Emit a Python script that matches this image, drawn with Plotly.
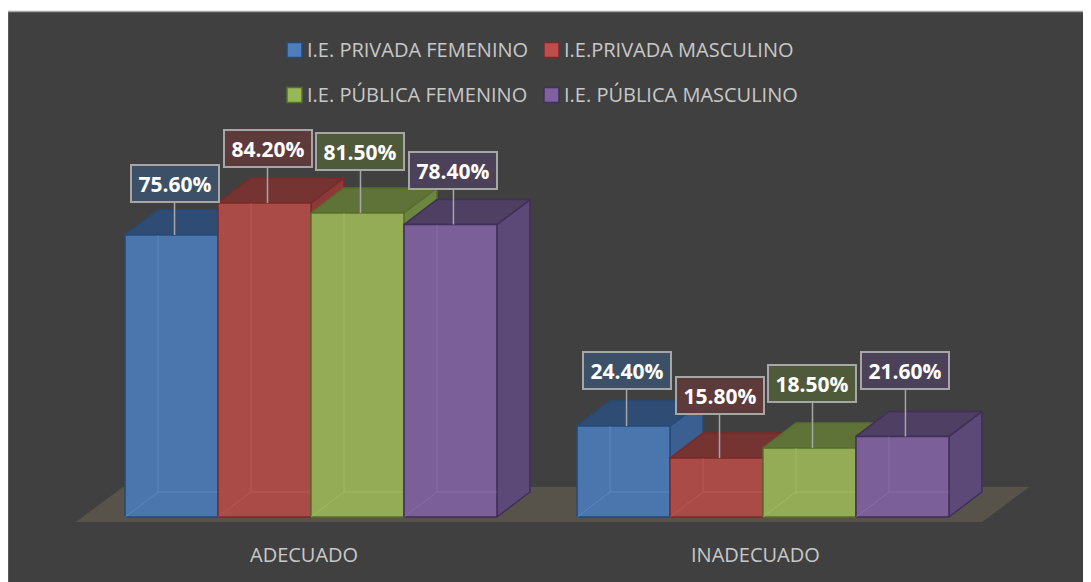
import plotly.graph_objects as go

# ---------------- data ----------------
categories = ["ADECUADO", "INADECUADO"]
series_names = ["I.E. PRIVADA FEMENINO", "I.E.PRIVADA MASCULINO",
                "I.E. PÚBLICA FEMENINO", "I.E. PÚBLICA MASCULINO"]
privada_femenino = [75.6, 24.4]
privada_masculino = [84.2, 15.8]
publica_femenino = [81.5, 18.5]
publica_masculino = [78.4, 21.6]
series_values = [privada_femenino, privada_masculino, publica_femenino, publica_masculino]

# ---------------- styles ----------------
front_colors = ["#4a76ad", "#ab4b48", "#93ac55", "#7a5f99"]
top_colors = ["#2f4d74", "#753332", "#5f7338", "#4e3f63"]
side_colors = ["#3a5f90", "#8a3b39", "#6c8540", "#5c4977"]
edge_colors = ["#264a78", "#7a2b29", "#576f2c", "#402f57"]
inner_colors = ["rgba(110,150,205,0.55)", "rgba(200,100,95,0.5)",
                "rgba(175,200,110,0.5)", "rgba(150,125,185,0.5)"]
legend_fill = ["#4f7fbb", "#bd4e4b", "#98b858", "#7e62a0"]
label_bg = ["#3c5068", "#5e3b3b", "#4f5a3a", "#4b4158"]
# vertical lift (px) of each data label above its bar, [category][series]
label_lift_px = [[52, 54, 62, 54], [55, 63, 64, 66]]

OFF = 8                # page body margin
W, H = 1091 - OFF, 582 - OFF
PX_PER_CAT = 452.0     # px per category unit
PX_PER_PCT = 3.73      # px per percentage point
ORIGIN_X, ORIGIN_Y = 311 - OFF, 517 - OFF
BAR_W = 0.2057
DX = 33 / PX_PER_CAT
DY = 25 / PX_PER_PCT
PANEL_BG = "#404040"
TEXT_COL = "#c8c8c8"
FONT = "Open Sans"

x_range = [-ORIGIN_X / PX_PER_CAT, (W - ORIGIN_X) / PX_PER_CAT]
y_range = [-(H - ORIGIN_Y) / PX_PER_PCT, ORIGIN_Y / PX_PER_PCT]

fig = go.Figure()

# floor
n = len(categories)
fl_front = -5 / PX_PER_PCT
fl_back = 30 / PX_PER_PCT
fl_x0 = -0.52
fl_x1 = n - 0.515
fl_dx = 47 / PX_PER_CAT
fig.add_trace(go.Scatter(
    x=[fl_x0, fl_x1, fl_x1 + fl_dx, fl_x0 + fl_dx, fl_x0],
    y=[fl_front, fl_front, fl_back, fl_back, fl_front],
    fill="toself", fillcolor="#57534a", mode="lines",
    line=dict(color="#57534a", width=0), hoverinfo="skip", showlegend=False))

annotations = []
nser = len(series_values)
for ci, cat in enumerate(categories):
    for si, vals in enumerate(series_values):
        v = vals[ci]
        x0 = ci + (si - nser / 2) * BAR_W
        x1 = x0 + BAR_W
        faces = [
            ([x1, x1 + DX, x1 + DX, x1, x1], [0, DY, v + DY, v, 0], side_colors[si]),
            ([x0, x1, x1 + DX, x0 + DX, x0], [v, v, v + DY, v + DY, v], top_colors[si]),
            ([x0, x1, x1, x0, x0], [0, 0, v, v, 0], front_colors[si]),
        ]
        for fx, fy, col in faces:
            fig.add_trace(go.Scatter(
                x=fx, y=fy, fill="toself", fillcolor=col, mode="lines",
                line=dict(color=edge_colors[si], width=1.5),
                hoverinfo="skip", showlegend=False))
        # faint hidden back edges (semi-transparent look)
        fig.add_trace(go.Scatter(
            x=[x0, x0 + DX, x1, None, x0 + DX, x0 + DX],
            y=[0, DY, DY, None, DY, v],
            mode="lines", line=dict(color=inner_colors[si], width=1),
            hoverinfo="skip", showlegend=False))
        # data label
        xc = (x0 + x1) / 2 + 3 / PX_PER_CAT
        annotations.append(dict(
            x=xc, y=v, xref="x", yref="y",
            text=f"{v:.2f}%", showarrow=True, ax=0, ay=-label_lift_px[ci][si],
            arrowhead=0, arrowwidth=1.5, arrowcolor="#a6a6a6", standoff=0,
            font=dict(family=FONT, size=21, color="#ffffff", weight="bold"),
            bgcolor=label_bg[si], bordercolor="#a6a6a6", borderwidth=2,
            borderpad=0, width=86, height=35, align="center", valign="middle"))
    # category label
    annotations.append(dict(
        x=ci - 7.5 / PX_PER_CAT, y=-(554 - 517) / PX_PER_PCT, xref="x", yref="y",
        text=cat, showarrow=False, xanchor="center", yanchor="middle",
        font=dict(family=FONT, size=20, color=TEXT_COL)))

# chart panel
shapes = [dict(type="rect", xref="paper", yref="paper",
               x0=-0.5 / W, x1=1.02, y0=-0.02, y1=1 - 3.5 / H,
               fillcolor=PANEL_BG, line=dict(color="#a6a6a6", width=1.5), layer="below")]
# legend (manual, two rows x two columns)
leg_cols_px = [287 - OFF, 544 - OFF]
leg_rows_px = [50 - OFF, 95 - OFF]
for si, name in enumerate(series_names):
    lx = leg_cols_px[si % 2]
    ly = leg_rows_px[si // 2]
    shapes.append(dict(type="rect", xref="paper", yref="paper",
                       x0=lx / W, x1=(lx + 15) / W,
                       y0=1 - (ly + 7.5) / H, y1=1 - (ly - 7.5) / H,
                       fillcolor=legend_fill[si], line=dict(color=edge_colors[si], width=1.5)))
    annotations.append(dict(
        x=(lx + 18) / W, y=1 - ly / H, xref="paper", yref="paper",
        text=name, showarrow=False, xanchor="left", yanchor="middle",
        font=dict(family=FONT, size=20, color=TEXT_COL)))

fig.update_layout(
    width=W, height=H,
    margin=dict(l=0, r=0, t=0, b=0),
    paper_bgcolor="#ffffff", plot_bgcolor="rgba(0,0,0,0)",
    xaxis=dict(range=x_range, visible=False, fixedrange=True),
    yaxis=dict(range=y_range, visible=False, fixedrange=True),
    shapes=shapes, annotations=annotations, showlegend=False,
)

fig.write_html("out.html")
